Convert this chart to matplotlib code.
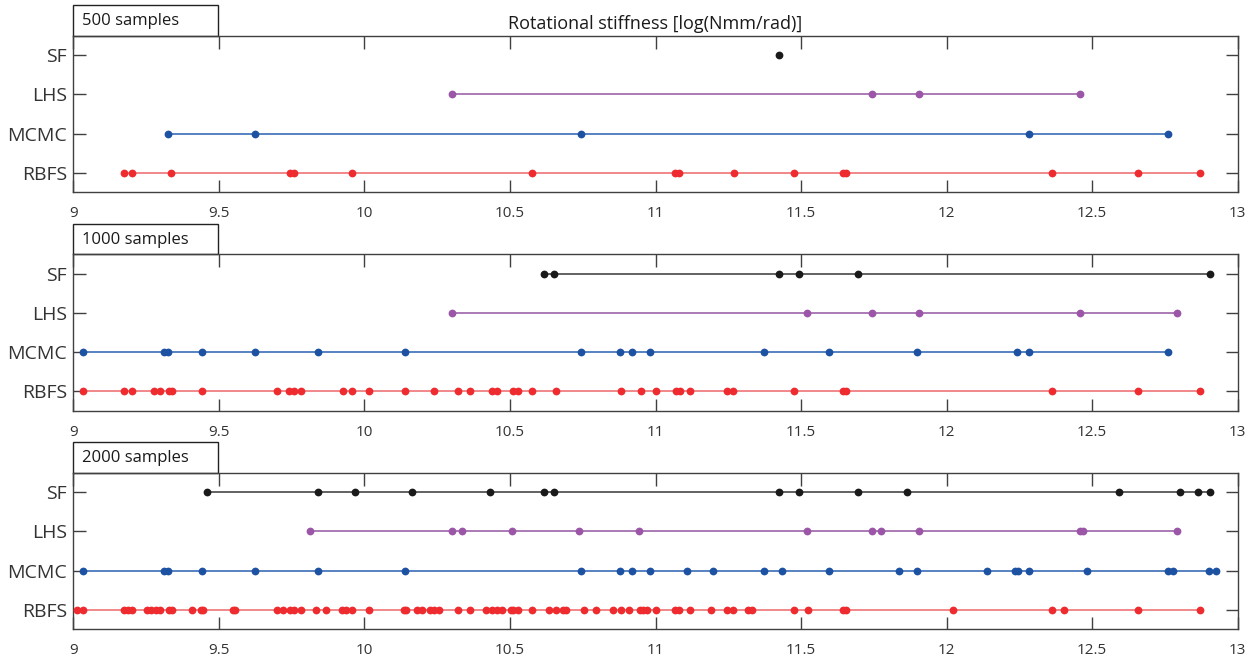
import matplotlib
matplotlib.use("Agg")
import matplotlib.pyplot as plt
from matplotlib.patches import Rectangle

plt.rcParams['font.family'] = ['Open Sans', 'DejaVu Sans']

methods = ['RBFS', 'MCMC', 'LHS', 'SF']
panel_titles = ['500 samples', '1000 samples', '2000 samples']
xticks = [9, 9.5, 10, 10.5, 11, 11.5, 12, 12.5, 13]
xtick_labels = ['9', '9.5', '10', '10.5', '11', '11.5', '12', '12.5', '13']
xlabel_top = 'Rotational stiffness [log(Nmm/rad)]'

# 500 samples
sf_500 = [11.425]
lhs_500 = [10.30, 11.745, 11.904, 12.459]
mcmc_500 = [9.324, 9.624, 10.744, 12.284, 12.762]
rbfs_500 = [9.174, 9.203, 9.335, 9.744, 9.758, 9.958, 10.576, 11.068, 11.082,
            11.270, 11.477, 11.645, 11.655, 12.361, 12.656, 12.872]

# 1000 samples
sf_1000 = [10.616, 10.650, 11.425, 11.494, 11.697, 12.905]
lhs_1000 = [10.30, 11.522, 11.745, 11.904, 12.459, 12.790]
mcmc_1000 = [9.034, 9.31, 9.325, 9.441, 9.624, 9.842, 10.138, 10.744, 10.878,
             10.920, 10.982, 11.374, 11.596, 11.899, 12.241, 12.284, 12.762]
rbfs_1000 = [9.033, 9.174, 9.203, 9.278, 9.298, 9.328, 9.338, 9.442, 9.699,
             9.742, 9.758, 9.781, 9.928, 9.958, 10.016, 10.139, 10.240, 10.320,
             10.364, 10.437, 10.457, 10.512, 10.529, 10.576, 10.658, 10.880,
             10.949, 11.001, 11.069, 11.084, 11.119, 11.247, 11.267, 11.477,
             11.645, 11.655, 12.361, 12.656, 12.872]

# 2000 samples
sf_2000 = [9.460, 9.840, 9.969, 10.162, 10.433, 10.617, 10.650, 11.425, 11.493,
           11.697, 11.864, 12.592, 12.803, 12.865, 12.905]
lhs_2000 = [9.813, 10.30, 10.336, 10.508, 10.736, 10.944, 11.522, 11.745,
            11.774, 11.904, 12.457, 12.467, 12.790]
mcmc_2000 = [9.034, 9.31, 9.325, 9.441, 9.624, 9.842, 10.138, 10.744, 10.878,
             10.920, 10.982, 11.109, 11.199, 11.374, 11.434, 11.596, 11.837,
             11.899, 12.140, 12.236, 12.246, 12.284, 12.481, 12.762, 12.777,
             12.901, 12.926]
rbfs_2000 = [9.014, 9.034, 9.174, 9.189, 9.203, 9.252, 9.267, 9.283, 9.298,
             9.330, 9.340, 9.407, 9.438, 9.446, 9.548, 9.556, 9.699, 9.721,
             9.744, 9.758, 9.781, 9.833, 9.869, 9.924, 9.935, 9.958, 10.016,
             10.136, 10.142, 10.180, 10.197, 10.225, 10.240, 10.257, 10.320,
             10.364, 10.418, 10.437, 10.457, 10.472, 10.503, 10.512, 10.529,
             10.576, 10.635, 10.658, 10.683, 10.692, 10.756, 10.795, 10.853,
             10.880, 10.909, 10.947, 10.958, 10.972, 11.001, 11.068, 11.082,
             11.119, 11.190, 11.245, 11.267, 11.317, 11.333, 11.477, 11.525,
             11.645, 11.655, 12.023, 12.361, 12.402, 12.656, 12.872]

panels = [
    [rbfs_500, mcmc_500, lhs_500, sf_500],
    [rbfs_1000, mcmc_1000, lhs_1000, sf_1000],
    [rbfs_2000, mcmc_2000, lhs_2000, sf_2000],
]

marker_colors = ['#ee2b2e', '#1d52a3', '#9c56a8', '#1a1a1a']
line_colors = ['#f07e80', '#4a77bd', '#a570b0', '#555555']
axis_col = '#404040'

fig = plt.figure(figsize=(12.56, 6.59), dpi=100)
left, width = 0.0584, 0.927
bottoms = [0.7082, 0.3763, 0.0451]
height = 0.2378

for p, data in enumerate(panels):
    ax = fig.add_axes([left, bottoms[p], width, height])
    for i, vals in enumerate(data):
        y = [i + 1] * len(vals)
        ax.plot(vals, y, '-', color=line_colors[i], lw=1.3, zorder=2)
        ax.plot(vals, y, 'o', color=marker_colors[i], ms=5.6, mew=0, zorder=3)
    ax.set_xlim(9, 13)
    ax.set_ylim(0.5, 4.5)
    ax.set_xticks(xticks)
    ax.set_xticklabels(xtick_labels)
    ax.set_yticks([1, 2, 3, 4])
    ax.set_yticklabels(methods)
    ax.tick_params(axis='both', direction='in', top=True, right=True,
                   length=9, width=1, color=axis_col)
    ax.tick_params(axis='x', labelsize=11, pad=10, labelcolor='#333333')
    ax.tick_params(axis='y', labelsize=14, pad=4.5, labelcolor='#333333')
    for s in ax.spines.values():
        s.set_color(axis_col)
        s.set_linewidth(1)

    # sample size box above top-left corner
    ax.add_patch(Rectangle((0, 1), 0.1245, 0.196, transform=ax.transAxes,
                           fill=False, lw=1, ec='#222222', clip_on=False))
    ax.text(0.0075, 1.09, panel_titles[p], transform=ax.transAxes,
            ha='left', va='center', fontsize=12, color='#1a1a1a')

    if p == 0:
        ax.set_title(xlabel_top, fontsize=13, color='#1a1a1a', pad=5)

fig.savefig('out.png', dpi=100)
